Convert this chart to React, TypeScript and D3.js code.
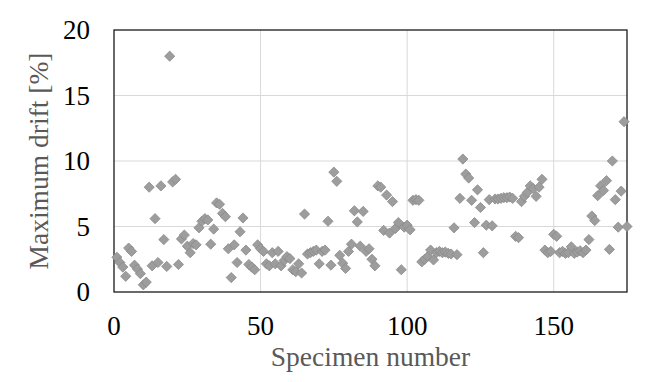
import React from "react";
import * as d3 from "d3";

const specimenValues: number[] = [
  2.65, 2.25, 1.9, 1.2, 3.35, 3.1, 2.05, 1.75, 1.4, 0.55,
  0.75, 8.0, 2.0, 5.6, 2.25, 8.1, 4.0, 1.95, 18.0, 8.4,
  8.6, 2.1, 4.05, 4.35, 3.5, 3.0, 3.7, 3.6, 4.9, 5.4,
  5.6, 5.5, 3.65, 4.8, 6.8, 6.7, 6.0, 5.75, 3.3, 1.1,
  3.6, 2.25, 4.6, 5.65, 3.2, 2.1, 1.9, 1.7, 3.6, 3.3,
  3.1, 2.15, 2.0, 3.0, 2.15, 3.1, 2.0, 2.4, 2.7, 2.55,
  1.7, 1.55, 2.15, 1.45, 5.95, 2.9, 3.0, 3.1, 3.2, 2.15,
  3.1, 3.2, 5.4, 2.05, 9.15, 8.45, 2.8, 2.2, 1.8, 3.1,
  3.65, 6.2, 5.35, 3.5, 6.15, 3.1, 3.3, 2.5, 2.0, 8.1,
  8.0, 4.7, 7.4, 4.5, 6.9, 4.85, 5.3, 1.7, 4.95, 5.1,
  4.75, 7.0, 7.05, 7.0, 2.3, 2.5, 2.7, 3.2, 2.45, 3.0,
  3.1, 3.0, 3.05, 2.95, 2.9, 4.9, 2.85, 7.15, 10.15, 9.0,
  8.7, 7.0, 5.3, 7.8, 6.45, 3.0, 5.1, 7.05, 5.05, 7.1,
  7.1, 7.15, 7.2, 7.2, 7.25, 7.15, 4.25, 4.15, 6.9, 7.3,
  7.6, 8.1, 7.9, 7.3, 8.0, 8.6, 3.2, 3.0, 3.1, 4.4,
  4.25, 3.0, 3.1, 2.95, 3.0, 3.45, 2.95, 3.05, 3.15, 3.0,
  3.2, 4.0, 5.8, 5.45, 7.35, 8.1, 7.75, 8.5, 3.25, 10.0,
  7.05, 4.95, 7.7, 13.0, 5.0,
];
const specimenNumbers: number[] = specimenValues.map((_, i) => i + 1);

const xTicks: number[] = [0, 50, 100, 150];
const yTicks: number[] = [0, 5, 10, 15, 20];
const xTitle = "Specimen number";
const yTitle = "Maximum drift [%]";

const W = 672;
const H = 382;
const left = 114;
const right = 627;
const top = 30;
const bottom = 292;

export default function App() {
  const x = d3.scaleLinear().domain([0, 175]).range([left, right]);
  const y = d3.scaleLinear().domain([0, 20]).range([bottom, top]);
  const r = 5.1;
  const diamond = `M0,${-r}L${r},0L0,${r}L${-r},0Z`;
  const font = "'Liberation Serif', 'Times New Roman', serif";

  return (
    <svg
      width={W}
      height={H}
      style={{ position: "fixed", left: 0, top: 0, background: "#fff" }}
    >
      <rect x={0} y={0} width={W} height={H} fill="#fff" />
      {xTicks.filter((t) => t > 0).map((t) => (
        <line key={"gx" + t} x1={x(t)} x2={x(t)} y1={top} y2={bottom} stroke="#d9d9d9" strokeWidth={1} />
      ))}
      {yTicks.filter((t) => t > 0 && t < 20).map((t) => (
        <line key={"gy" + t} x1={left} x2={right} y1={y(t)} y2={y(t)} stroke="#d9d9d9" strokeWidth={1} />
      ))}
      <rect x={left} y={top} width={right - left} height={bottom - top} fill="none" stroke="#1a1a1a" strokeWidth={1.3} />
      {specimenValues.map((v, i) => (
        <path
          key={i}
          d={diamond}
          transform={`translate(${x(specimenNumbers[i])},${y(v)})`}
          fill="#9d9d9d"
          stroke="#8a8a8a"
          strokeWidth={0.8}
        />
      ))}
      {yTicks.map((t) => (
        <text key={"ty" + t} x={90} y={y(t)} dy="0.34em" textAnchor="end" fontFamily={font} fontSize={27} fill="#000">
          {t}
        </text>
      ))}
      {xTicks.map((t) => (
        <text key={"tx" + t} x={x(t)} y={335} textAnchor="middle" fontFamily={font} fontSize={27} fill="#000">
          {t}
        </text>
      ))}
      <text x={(left + right) / 2} y={366} textAnchor="middle" fontFamily={font} fontSize={27.5} fill="#595959">
        {xTitle}
      </text>
      <text
        transform={`translate(48,${(top + bottom) / 2}) rotate(-90)`}
        textAnchor="middle"
        fontFamily={font}
        fontSize={27.5}
        fill="#595959"
      >
        {yTitle}
      </text>
    </svg>
  );
}
